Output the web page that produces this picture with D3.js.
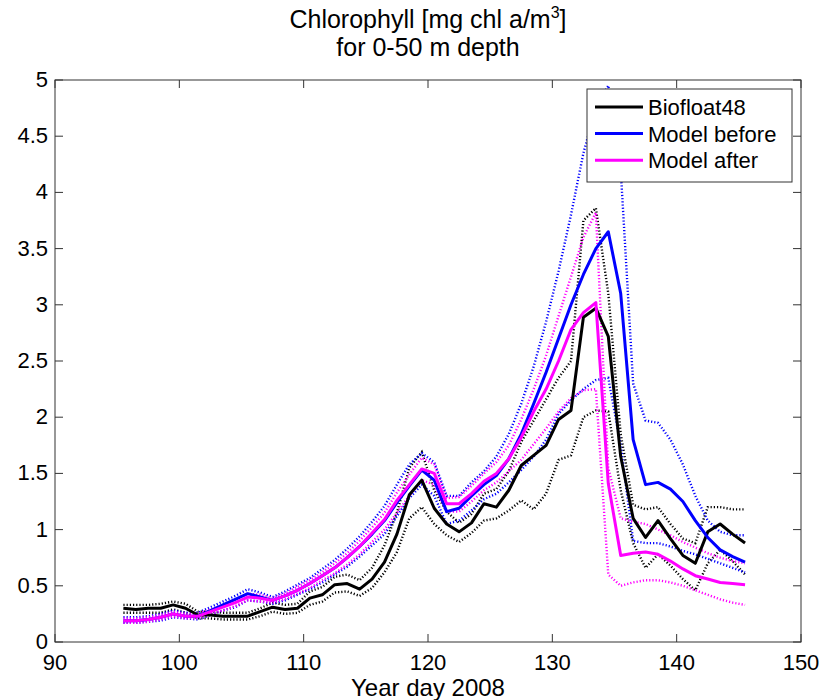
<!DOCTYPE html>
<html>
<head>
<meta charset="utf-8">
<script src="https://cdn.jsdelivr.net/npm/d3@7/dist/d3.min.js"></script>
<style>
  body { margin: 0; background: #fff; }
  text { font-family: "Liberation Sans", Arial, sans-serif; fill: #000; }
</style>
</head>
<body>
<div id="chart"></div>
<script>
// year day of each sample
const days = [95.5, 96.5, 97.5, 98.5, 99.5, 100.5, 101.5, 102.5, 103.5, 104.5,
  105.5, 106.5, 107.5, 108.5, 109.5, 110.5, 111.5, 112.5, 113.5, 114.5,
  115.5, 116.5, 117.5, 118.5, 119.5, 120.5, 121.5, 122.5, 123.5, 124.5,
  125.5, 126.5, 127.5, 128.5, 129.5, 130.5, 131.5, 132.5, 133.5, 134.5,
  135.5, 136.5, 137.5, 138.5, 139.5, 140.5, 141.5, 142.5, 143.5, 144.5, 145.5];

// Biofloat48 mean and spread
const floatMean = [0.30, 0.29, 0.30, 0.30, 0.33, 0.30, 0.24, 0.24, 0.23, 0.23,
  0.23, 0.27, 0.31, 0.29, 0.30, 0.39, 0.42, 0.51, 0.52, 0.47,
  0.56, 0.71, 0.96, 1.31, 1.44, 1.19, 1.05, 0.98, 1.06, 1.23,
  1.20, 1.35, 1.57, 1.66, 1.75, 1.98, 2.06, 2.89, 2.97, 2.72,
  1.65, 1.10, 0.93, 1.08, 0.92, 0.77, 0.70, 0.98, 1.05, 0.96, 0.88];
const floatUpper = [0.33, 0.33, 0.33, 0.34, 0.36, 0.34, 0.27, 0.27, 0.26, 0.26,
  0.26, 0.30, 0.35, 0.33, 0.34, 0.45, 0.49, 0.58, 0.60, 0.55,
  0.66, 0.86, 1.15, 1.55, 1.69, 1.35, 1.16, 1.06, 1.14, 1.32,
  1.36, 1.52, 1.78, 1.97, 2.16, 2.35, 2.50, 3.75, 3.86, 3.10,
  1.85, 1.22, 1.18, 1.20, 1.05, 0.92, 0.88, 1.20, 1.20, 1.18, 1.18];
const floatLower = [0.26, 0.26, 0.26, 0.26, 0.29, 0.26, 0.21, 0.21, 0.20, 0.20,
  0.20, 0.23, 0.27, 0.25, 0.26, 0.33, 0.36, 0.44, 0.45, 0.41,
  0.48, 0.62, 0.80, 1.10, 1.20, 1.05, 0.95, 0.89, 0.97, 1.08,
  1.10, 1.17, 1.26, 1.18, 1.32, 1.62, 1.66, 2.00, 2.06, 2.05,
  1.35, 0.88, 0.66, 0.78, 0.68, 0.56, 0.46, 0.70, 0.82, 0.72, 0.60];

// model before assimilation
const beforeMean = [0.19, 0.19, 0.20, 0.22, 0.25, 0.23, 0.23, 0.28, 0.33, 0.38,
  0.43, 0.40, 0.37, 0.41, 0.46, 0.52, 0.59, 0.66, 0.75, 0.85,
  0.96, 1.08, 1.24, 1.39, 1.53, 1.44, 1.16, 1.19, 1.30, 1.40,
  1.48, 1.63, 1.85, 2.12, 2.40, 2.70, 3.00, 3.27, 3.50, 3.65,
  3.10, 1.80, 1.40, 1.42, 1.36, 1.25, 1.08, 0.93, 0.82, 0.76, 0.71];
const beforeUpper = [0.22, 0.22, 0.23, 0.25, 0.28, 0.26, 0.26, 0.31, 0.36, 0.41,
  0.47, 0.44, 0.40, 0.45, 0.51, 0.57, 0.65, 0.73, 0.83, 0.94,
  1.07, 1.21, 1.40, 1.58, 1.68, 1.60, 1.30, 1.30, 1.42, 1.52,
  1.65, 1.85, 2.12, 2.45, 2.85, 3.30, 3.80, 4.35, 4.75, 4.95,
  4.20, 2.30, 1.97, 1.95, 1.80, 1.58, 1.30, 1.08, 0.98, 0.95, 0.95];
const beforeLower = [0.17, 0.17, 0.18, 0.19, 0.22, 0.21, 0.20, 0.24, 0.28, 0.31,
  0.37, 0.36, 0.34, 0.37, 0.42, 0.47, 0.53, 0.60, 0.67, 0.76,
  0.86, 0.96, 1.12, 1.28, 1.40, 1.30, 1.05, 1.08, 1.17, 1.27,
  1.32, 1.42, 1.53, 1.65, 1.80, 2.03, 2.15, 2.25, 2.33, 2.35,
  1.75, 0.90, 0.88, 0.88, 0.85, 0.81, 0.78, 0.74, 0.70, 0.66, 0.62];

// model after assimilation
const afterMean = [0.19, 0.19, 0.20, 0.22, 0.25, 0.23, 0.23, 0.27, 0.31, 0.35,
  0.40, 0.39, 0.37, 0.41, 0.46, 0.52, 0.59, 0.66, 0.75, 0.85,
  0.97, 1.09, 1.26, 1.40, 1.54, 1.50, 1.23, 1.23, 1.32, 1.43,
  1.50, 1.63, 1.82, 2.05, 2.25, 2.50, 2.78, 2.93, 3.02, 1.41,
  0.77, 0.79, 0.80, 0.78, 0.72, 0.65, 0.59, 0.56, 0.53, 0.52, 0.51];
const afterUpper = [0.21, 0.21, 0.22, 0.24, 0.27, 0.25, 0.25, 0.29, 0.33, 0.38,
  0.43, 0.42, 0.39, 0.43, 0.49, 0.55, 0.62, 0.70, 0.79, 0.90,
  1.02, 1.15, 1.33, 1.49, 1.64, 1.58, 1.28, 1.29, 1.39, 1.50,
  1.60, 1.75, 1.98, 2.25, 2.55, 2.90, 3.25, 3.60, 3.82, 1.55,
  1.10, 1.07, 1.05, 1.00, 0.95, 0.89, 0.84, 0.79, 0.75, 0.72, 0.70];
const afterLower = [0.17, 0.17, 0.18, 0.20, 0.23, 0.21, 0.21, 0.25, 0.28, 0.32,
  0.37, 0.36, 0.35, 0.38, 0.43, 0.48, 0.55, 0.61, 0.69, 0.78,
  0.89, 1.00, 1.15, 1.30, 1.44, 1.40, 1.16, 1.16, 1.25, 1.35,
  1.42, 1.52, 1.62, 1.76, 1.90, 2.05, 2.17, 2.24, 2.25, 0.60,
  0.50, 0.53, 0.55, 0.55, 0.53, 0.50, 0.46, 0.42, 0.38, 0.35, 0.33];

const seriesNames = ["Biofloat48", "Model before", "Model after"];
const seriesColors = ["#000000", "#0000ff", "#ff00ff"];
const xTicks = [90, 100, 110, 120, 130, 140, 150];
const yTicks = [0, 0.5, 1, 1.5, 2, 2.5, 3, 3.5, 4, 4.5, 5];

const width = 832;
const height = 700;
const margin = { top: 80, right: 31, bottom: 58, left: 55 };

const svg = d3.select("#chart")
    .append("svg")
    .attr("width", width)
    .attr("height", height);

const x = d3.scaleLinear().domain([90, 150]).range([margin.left, width - margin.right]);
const y = d3.scaleLinear().domain([0, 5]).range([height - margin.bottom, margin.top]);

const line = d3.line()
    .x((d, i) => x(days[i]))
    .y(d => y(d));

// dotted spread lines first, solid means on top
const dotted = [
    [floatUpper, 0], [floatLower, 0],
    [beforeUpper, 1], [beforeLower, 1],
    [afterUpper, 2], [afterLower, 2]
];
svg.append("g")
    .selectAll("path")
    .data(dotted)
    .enter()
    .append("path")
    .attr("d", d => line(d[0]))
    .attr("fill", "none")
    .attr("stroke", d => seriesColors[d[1]])
    .attr("stroke-width", 2.4)
    .attr("stroke-dasharray", "1.2,2");

const means = [floatMean, beforeMean, afterMean];
svg.append("g")
    .selectAll("path")
    .data(means)
    .enter()
    .append("path")
    .attr("d", d => line(d))
    .attr("fill", "none")
    .attr("stroke", (d, i) => seriesColors[i])
    .attr("stroke-width", 3)
    .attr("stroke-linejoin", "round");

// axes box with inward ticks on all sides
const axisColor = "#333";
const tick = 8;
const axes = svg.append("g");
axes.append("rect")
    .attr("x", x(90)).attr("y", y(5))
    .attr("width", x(150) - x(90)).attr("height", y(0) - y(5))
    .attr("fill", "none").attr("stroke", axisColor).attr("stroke-width", 1);

xTicks.forEach(t => {
    axes.append("line").attr("x1", x(t)).attr("x2", x(t))
        .attr("y1", y(0)).attr("y2", y(0) - tick).attr("stroke", axisColor);
    axes.append("line").attr("x1", x(t)).attr("x2", x(t))
        .attr("y1", y(5)).attr("y2", y(5) + tick).attr("stroke", axisColor);
    axes.append("text").attr("x", x(t)).attr("y", y(0) + 28)
        .attr("text-anchor", "middle").style("font-size", "22px").text(t);
});

yTicks.forEach(t => {
    axes.append("line").attr("x1", x(90)).attr("x2", x(90) + tick)
        .attr("y1", y(t)).attr("y2", y(t)).attr("stroke", axisColor);
    axes.append("line").attr("x1", x(150)).attr("x2", x(150) - tick)
        .attr("y1", y(t)).attr("y2", y(t)).attr("stroke", axisColor);
    axes.append("text").attr("x", x(90) - 7).attr("y", y(t) + 7)
        .attr("text-anchor", "end").style("font-size", "22px").text(t);
});

// title and axis label
const title = svg.append("text")
    .attr("x", 428).attr("y", 28)
    .attr("text-anchor", "middle").style("font-size", "25px");
title.append("tspan").text("Chlorophyll [mg chl a/m");
title.append("tspan").attr("dy", -10).style("font-size", "16px").text("3");
title.append("tspan").attr("dy", 10).text("]");

svg.append("text")
    .attr("x", 428).attr("y", 56)
    .attr("text-anchor", "middle").style("font-size", "25px")
    .text("for 0-50 m depth");

svg.append("text")
    .attr("x", 428).attr("y", 696)
    .attr("text-anchor", "middle").style("font-size", "24px")
    .text("Year day 2008");

// legend
const legend = svg.append("g").attr("transform", "translate(587, 89)");
legend.append("rect")
    .attr("width", 205).attr("height", 93)
    .attr("fill", "#fff").attr("stroke", axisColor);

seriesNames.forEach((name, i) => {
    const ly = 18 + i * 26.6;
    legend.append("line")
        .attr("x1", 8).attr("x2", 56)
        .attr("y1", ly).attr("y2", ly)
        .attr("stroke", seriesColors[i]).attr("stroke-width", 3);
    legend.append("text")
        .attr("x", 61).attr("y", ly + 8)
        .style("font-size", "22px")
        .text(name);
});
</script>
</body>
</html>
